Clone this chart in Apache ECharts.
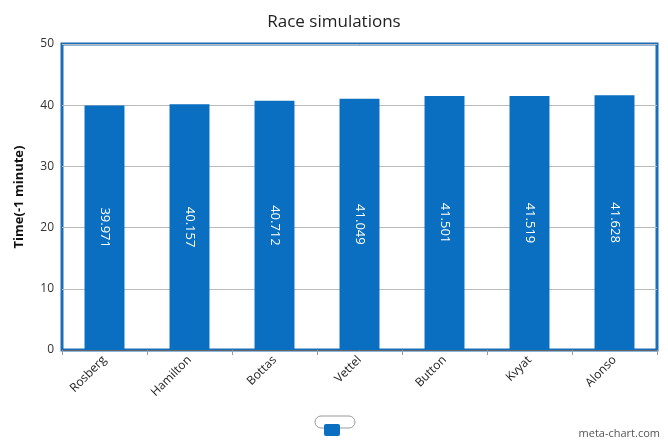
<!DOCTYPE html>
<html><head><meta charset="utf-8">
<script src="https://cdn.jsdelivr.net/npm/echarts@6/dist/echarts.min.js"></script>
<style>html,body{margin:0;padding:0;background:#fff}#c{width:668px;height:445px}</style>
</head><body><div id="c"></div>
<script>
const categories = ['Rosberg','Hamilton','Bottas','Vettel','Button','Kvyat','Alonso'];
const values = [39.971,40.157,40.712,41.049,41.501,41.519,41.628];
const chart = echarts.init(document.getElementById('c'));
chart.setOption({
  animation:false,
  title:{text:'Race simulations',left:'center',top:9,textStyle:{fontFamily:'Open Sans',fontWeight:'normal',fontSize:17,color:'#222'}},
  grid:{left:62,right:11,top:44,bottom:95,show:true,borderColor:'#1a6fb8',borderWidth:3,backgroundColor:'#fff'},
  xAxis:{type:'category',data:categories,
    axisLine:{lineStyle:{color:'#666'}},axisTick:{show:true,alignWithLabel:false,lineStyle:{color:'#999'}},
    axisLabel:{rotate:45,fontFamily:'Open Sans',fontSize:12,color:'#222',margin:8}},
  yAxis:{type:'value',min:0,max:50,interval:10,name:'Time(-1 minute)',nameLocation:'middle',nameGap:36,
    nameTextStyle:{fontFamily:'Open Sans',fontWeight:'bold',fontSize:13,color:'#111'},
    axisLabel:{fontFamily:'Open Sans',fontSize:12,color:'#333'},
    splitLine:{lineStyle:{color:'#bbb'}},axisLine:{show:false}},
  series:[{type:'bar',data:values,barWidth:'47%',itemStyle:{color:'#0a6fc0'},
    label:{show:true,position:'inside',rotate:-90,color:'#fff',fontFamily:'Open Sans',fontSize:13,formatter:p=>p.value.toFixed(3)}}],
  graphic:[
    {type:'rect',shape:{x:315,y:416,width:40,height:12,r:6},style:{fill:'#fff',stroke:'#999',lineWidth:1}},
    {type:'rect',shape:{x:324,y:424,width:16,height:12,r:2},style:{fill:'#0a6fc0'}},
    {type:'text',right:8,bottom:6,style:{text:'meta-chart.com',fontFamily:'Open Sans',fontSize:11,fill:'#555'}}
  ]
});
</script></body></html>
